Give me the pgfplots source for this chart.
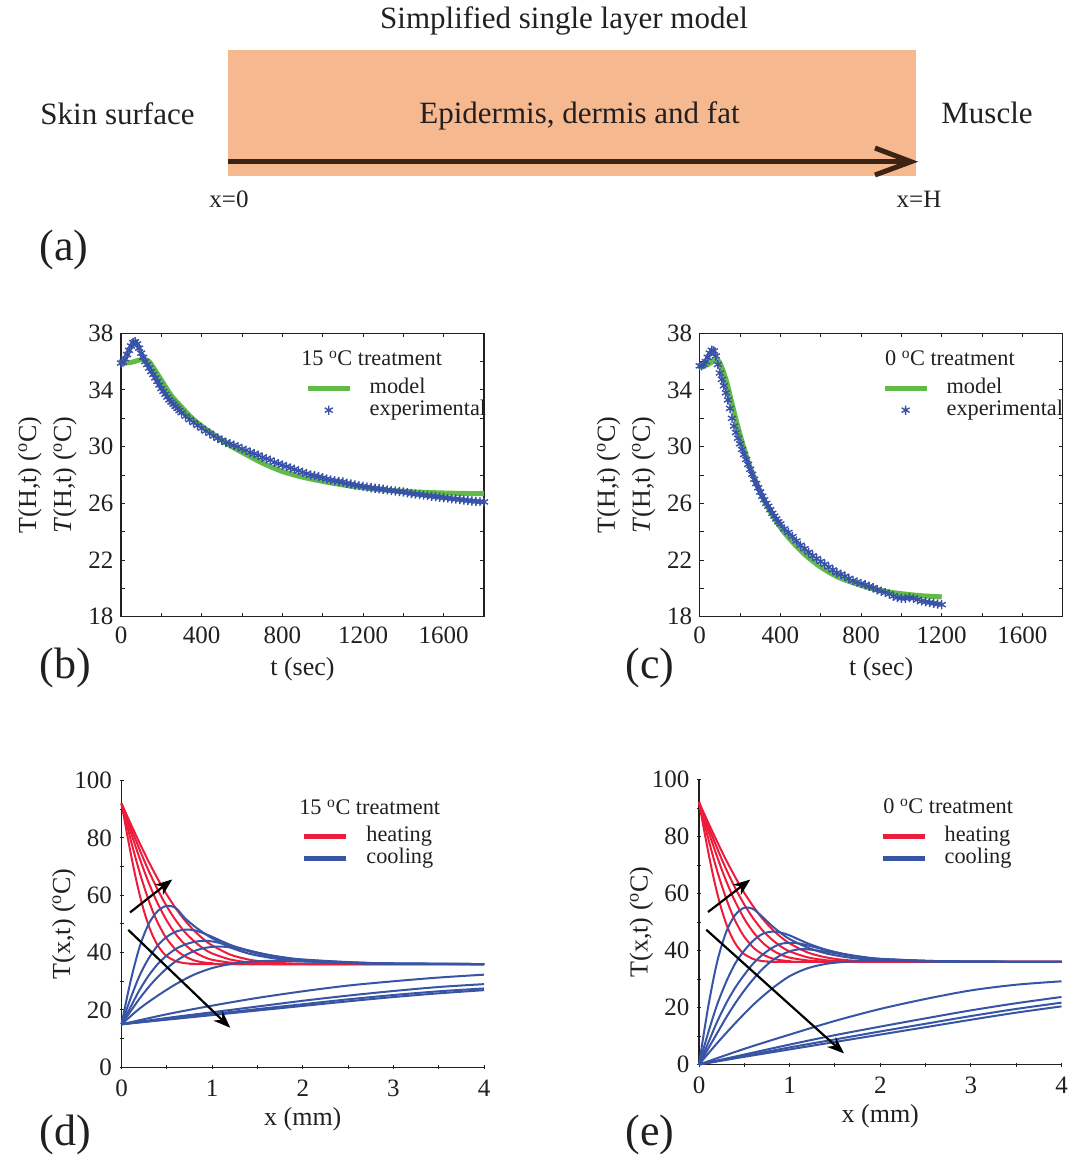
\documentclass[border=0pt]{standalone}
\usepackage{fontspec}
\setmainfont{Liberation Serif}
\usepackage{pgfplots}
\pgfplotsset{compat=1.18}
\usetikzlibrary{arrows.meta}

\definecolor{peach}{RGB}{246,184,142}
\definecolor{barrow}{RGB}{61,35,20}
\definecolor{mgreen}{RGB}{98,187,70}
\definecolor{eblue}{RGB}{55,82,168}
\definecolor{hred}{RGB}{237,28,58}
\definecolor{cblue}{RGB}{56,84,164}
\definecolor{ink}{RGB}{35,31,32}

\tikzset{arr/.style={-{Stealth[length=17pt, width=13pt]}, line width=2.2pt, black},
  ttl/.style={anchor=base west, inner sep=0pt, font=\fontsize{22.3}{22.3}\selectfont, text=ink}}

\pgfplotsset{
  panel/.style={
    scale only axis, clip=false,
    axis line style={line width=1.1pt, ink},
    tick style={line width=1pt, ink},
    major tick length=4pt, minor tick length=4pt,
    tick align=inside,
    /pgf/number format/assume math mode=true,
    /pgf/number format/1000 sep={},
    ticklabel style={font=\fontsize{25}{25}\selectfont, text=ink},
    xticklabel shift=7pt, yticklabel shift=4pt,
    label style={font=\fontsize{26}{26}\selectfont, text=ink},
    legend cell align=left,
    legend style={draw=none, fill=none, inner sep=0pt, column sep=17pt,
      font=\fontsize{22.3}{22.3}\selectfont, text=ink,
      nodes={inner sep=0.5pt, text height=16pt, text depth=5pt}},
  },
  tfit/.style={panel, xmin=0, xmax=1800, ymin=18, ymax=38,
    xtick={0,400,800,1200,1600}, minor xtick={200,600,1000,1400,1800},
    ytick={18,22,26,30,34,38}, minor ytick={20,24,28,32,36},
    xlabel={t (sec)},
    ylabel={T(H,t) (\textsuperscript{o}C)\\[9pt]\textit{T}(H,t) (\textsuperscript{o}C)},
    ylabel style={align=center}},
  prof/.style={panel, xmin=0, xmax=4, ymin=0, ymax=100,
    axis x line=bottom, axis y line=left, axis line style={-},
    xtick={0,1,2,3,4}, minor xtick={0.5,1.5,2.5,3.5},
    ytick={0,20,40,60,80,100}, minor ytick={10,30,50,70,90},
    xlabel={x (mm)}, ylabel={T(x,t) (\textsuperscript{o}C)}},
  model/.style={mgreen, line width=5pt, smooth,
    legend image code/.code={\draw[##1] (0pt,0pt) -- (42pt,0pt);}},
  expt/.style={eblue, line width=0.5pt, mark=asterisk, mark size=4.6pt,
    mark options={line width=1.4pt},
    legend image code/.code={\draw[##1, only marks, mark repeat=2, mark phase=2]
      plot coordinates {(0pt,0pt) (21pt,0pt) (42pt,0pt)};}},
  hot/.style={hred, line width=2pt, smooth,
    legend image code/.code={\draw[##1, line width=5pt] (0pt,0pt) -- (42pt,0pt);}},
  cold/.style={cblue, line width=2pt, smooth,
    legend image code/.code={\draw[##1, line width=5pt] (0pt,0pt) -- (42pt,0pt);}},
}

\begin{document}
\begin{tikzpicture}
\useasboundingbox (0pt,0pt) rectangle (1084pt,-1155pt);

% (a) diagram
\begin{scope}[x=1pt, y=-1pt, text=ink]
  \fill[peach] (228,50.5) rectangle (916,175.7);
  \draw[barrow, line width=5pt] (228,161.7) -- (910,161.7);
  \draw[barrow, line width=5pt, line join=miter] (875,148) -- (911,161.7) -- (875,175);
  \node[anchor=base, font=\fontsize{31}{31}\selectfont] at (564,28.5) {Simplified single layer model};
  \node[anchor=base, font=\fontsize{31}{31}\selectfont] at (117.5,125) {Skin surface};
  \node[anchor=base, font=\fontsize{31}{31}\selectfont] at (579.5,124) {Epidermis, dermis and fat};
  \node[anchor=base, font=\fontsize{31}{31}\selectfont] at (987,124) {Muscle};
  \node[anchor=base, font=\fontsize{25}{25}\selectfont] at (229,208) {x=0};
  \node[anchor=base, font=\fontsize{25}{25}\selectfont] at (919,208) {x=H};
  \node[font=\fontsize{44}{44}\selectfont] at (64,250) {(a)};
  \node[font=\fontsize{44}{44}\selectfont] at (65,668) {(b)};
  \node[font=\fontsize{44}{44}\selectfont] at (650,668) {(c)};
  \node[font=\fontsize{44}{44}\selectfont] at (65,1135) {(d)};
  \node[font=\fontsize{44}{44}\selectfont] at (650,1135) {(e)};
\end{scope}

% (b) 15 C treatment, T(H,t)
\begin{axis}[tfit, at={(121pt,-616.7pt)}, anchor=south west,
  width=363pt, height=283.4pt, xlabel shift=6pt, ylabel shift=5pt,
  legend style={at={(0.507,0.846)}, anchor=north west}]
\addplot[model] coordinates {
(0,35.9) (50,35.95) (100,36.15) (120,36.15) (140,36.0) (160,35.6) (180,35.15)
(200,34.7) (250,33.6) (300,32.8) (350,32.05) (400,31.45) (450,30.95) (500,30.45)
(550,30.0) (600,29.6) (700,28.85) (800,28.25) (900,27.85) (1000,27.55) (1100,27.3)
(1200,27.1) (1300,26.95) (1400,26.85) (1500,26.78) (1600,26.73) (1700,26.7) (1800,26.68)};
\addlegendentry{model}
\addplot[expt] coordinates {
(0,35.9) (10,35.95) (20,36.2) (30,36.5) (40,36.8) (50,37.1) (60,37.35) (70,37.4)
(80,37.25) (90,36.95) (100,36.6) (110,36.3) (120,36.0) (130,35.8) (140,35.55)
(150,35.3) (160,35.1) (170,34.85) (180,34.6) (190,34.35) (200,34.1) (210,33.9)
(220,33.7) (230,33.5) (240,33.3) (250,33.15) (260,33.0) (270,32.85) (280,32.7)
(290,32.55) (300,32.4) (320,32.15) (340,31.9) (360,31.7) (380,31.5) (400,31.3)
(420,31.1) (440,30.95) (460,30.75) (480,30.6) (500,30.45) (520,30.3) (540,30.2)
(560,30.1) (580,30.0) (600,29.85) (620,29.75) (640,29.6) (660,29.5) (680,29.4)
(700,29.25) (720,29.15) (740,29.05) (760,28.9) (780,28.8) (800,28.7) (820,28.6)
(840,28.5) (860,28.4) (880,28.3) (900,28.2) (920,28.1) (940,28.0) (960,27.95)
(980,27.88) (1000,27.8) (1020,27.72) (1040,27.65) (1060,27.6) (1080,27.55)
(1100,27.5) (1120,27.42) (1140,27.36) (1160,27.3) (1180,27.25) (1200,27.2)
(1220,27.15) (1240,27.1) (1260,27.06) (1280,27.03) (1300,27.0) (1320,26.95)
(1340,26.9) (1360,26.87) (1380,26.83) (1400,26.8) (1420,26.75) (1440,26.7)
(1460,26.65) (1480,26.62) (1500,26.58) (1520,26.55) (1540,26.5) (1560,26.47)
(1580,26.43) (1600,26.4) (1620,26.37) (1640,26.33) (1660,26.3) (1680,26.27)
(1700,26.23) (1720,26.2) (1740,26.17) (1760,26.14) (1780,26.12) (1800,26.1)};
\addlegendentry{experimental}
\node[ttl] at (rel axis cs:0.496,0.885) {15 \textsuperscript{o}C treatment};
\end{axis}

% (c) 0 C treatment, T(H,t)
\begin{axis}[tfit, at={(699.7pt,-616.7pt)}, anchor=south west,
  width=363pt, height=283.4pt, xlabel shift=6pt, ylabel shift=5pt,
  legend style={at={(0.502,0.846)}, anchor=north west}]
\addplot[model] coordinates {
(0,35.65) (40,35.8) (70,36.05) (90,36.1) (105,35.75) (130,34.75) (155,33.35)
(180,31.9) (205,30.6) (230,29.4) (255,28.35) (290,27.15) (320,26.2) (355,25.3)
(405,24.2) (455,23.35) (520,22.4) (600,21.5) (685,20.8) (770,20.35) (850,20.0)
(935,19.75) (1015,19.6) (1100,19.48) (1200,19.4)};
\addlegendentry{model}
\addplot[expt] coordinates {
(0,35.7) (10,35.7) (20,35.8) (30,36.0) (40,36.3) (50,36.6) (60,36.8) (70,36.75)
(80,36.4) (90,35.8) (100,35.2) (110,34.75) (120,34.3) (130,33.8) (140,33.3)
(150,32.7) (160,32.0) (170,31.45) (180,31.0) (190,30.6) (200,30.2) (210,29.8)
(220,29.45) (230,29.1) (240,28.75) (250,28.4) (260,28.05) (270,27.7) (280,27.4)
(290,27.1) (300,26.8) (310,26.5) (320,26.25) (330,26.0) (340,25.8) (350,25.55)
(360,25.3) (370,25.1) (380,24.9) (390,24.7) (400,24.55) (420,24.2) (440,23.95)
(460,23.65) (480,23.35) (500,23.05) (520,22.8) (540,22.55) (560,22.3) (580,22.1)
(600,21.9) (620,21.7) (640,21.5) (660,21.3) (680,21.1) (700,21.0) (720,20.85)
(740,20.7) (760,20.55) (780,20.45) (800,20.35) (820,20.25) (840,20.15) (860,20.05)
(880,19.9) (900,19.8) (920,19.7) (940,19.6) (960,19.45) (980,19.35) (1000,19.3)
(1020,19.3) (1040,19.35) (1060,19.3) (1080,19.2) (1100,19.1) (1120,19.05)
(1140,19.0) (1160,18.95) (1180,18.9) (1200,18.85)};
\addlegendentry{experimental}
\node[ttl] at (rel axis cs:0.51,0.885) {0 \textsuperscript{o}C treatment};
\end{axis}

% (d) 15 C treatment, T(x,t)
\begin{axis}[prof, at={(121.5pt,-1067.3pt)}, anchor=south west,
  width=362.5pt, height=286.8pt, xlabel shift=4pt, ylabel shift=-8pt,
  legend style={at={(0.497,0.845)}, anchor=north west}]
\addplot[hot] coordinates {(0,92) (0.05,83.3) (0.1,74.9) (0.15,67.1) (0.2,60.2) (0.25,54.3) (0.3,49.4) (0.35,45.5) (0.4,42.5) (0.45,40.3) (0.5,38.7) (0.6,37.0) (0.7,36.3) (0.8,36.1) (1.0,36) (4,36)};
\addlegendentry{heating}
\addplot[hot, forget plot] coordinates {(0,92) (0.05,85.7) (0.1,79.5) (0.15,73.6) (0.2,68.0) (0.25,62.9) (0.3,58.2) (0.35,54.0) (0.4,50.4) (0.45,47.4) (0.5,44.8) (0.6,41.0) (0.7,38.7) (0.8,37.3) (0.9,36.6) (1.0,36.3) (1.2,36.0) (4,36)};
\addplot[hot, forget plot] coordinates {(0,92) (0.05,87.1) (0.1,82.2) (0.15,77.5) (0.2,72.9) (0.25,68.5) (0.3,64.4) (0.35,60.6) (0.4,57.1) (0.5,51.1) (0.6,46.4) (0.7,42.8) (0.8,40.3) (0.9,38.6) (1.0,37.5) (1.2,36.5) (1.4,36.1) (1.6,36) (4,36)};
\addplot[hot, forget plot] coordinates {(0,92) (0.1,83.8) (0.2,75.9) (0.3,68.5) (0.4,61.9) (0.5,56.1) (0.6,51.2) (0.7,47.1) (0.8,44.0) (0.9,41.5) (1.0,39.7) (1.2,37.6) (1.4,36.6) (1.6,36.2) (1.8,36) (4,36)};
\addplot[hot, forget plot] coordinates {(0,92) (0.1,85.0) (0.2,78.2) (0.3,71.7) (0.4,65.7) (0.5,60.2) (0.6,55.4) (0.7,51.2) (0.8,47.7) (0.9,44.8) (1.0,42.5) (1.2,39.3) (1.4,37.6) (1.6,36.7) (1.8,36.3) (2.0,36.1) (2.2,36) (4,36)};
\addplot[cold] coordinates {(0,15) (0.1,30) (0.2,42) (0.3,50) (0.4,54.5) (0.5,56.3) (0.6,55.5) (0.7,52) (0.8,49.3) (0.9,47.0) (1.0,45) (1.2,41.8) (1.4,39.7) (1.6,38.4) (1.8,37.5) (2.0,37.0) (2.5,36.3) (3.0,36.1) (4.0,36)};
\addlegendentry{cooling}
\addplot[cold, forget plot] coordinates {(0,15) (0.1,24) (0.2,32) (0.3,38) (0.4,42.5) (0.5,45.5) (0.6,47.3) (0.7,48) (0.8,47.8) (0.9,46.8) (1.0,45.5) (1.2,42.7) (1.4,40.5) (1.6,39.0) (1.8,38.0) (2.0,37.3) (2.5,36.5) (3.0,36.1) (4.0,36)};
\addplot[cold, forget plot] coordinates {(0,15) (0.1,21) (0.2,27) (0.3,32) (0.4,36) (0.5,39) (0.6,41.3) (0.7,42.8) (0.8,43.7) (0.9,44.1) (1.0,43.9) (1.2,42.5) (1.4,40.8) (1.6,39.3) (1.8,38.2) (2.0,37.5) (2.5,36.6) (3.0,36.2) (4.0,36)};
\addplot[cold, forget plot] coordinates {(0,15) (0.1,19.5) (0.2,24) (0.3,28) (0.4,31.5) (0.5,34.5) (0.6,37) (0.7,39) (0.8,40.5) (0.9,41.5) (1.0,42) (1.1,42.1) (1.2,41.8) (1.4,40.6) (1.6,39.3) (1.8,38.3) (2.0,37.6) (2.5,36.7) (3.0,36.2) (4.0,36)};
\addplot[cold, forget plot] coordinates {(0,15) (0.2,20.5) (0.4,25) (0.6,29) (0.8,32.3) (1.0,34.6) (1.2,36.0) (1.4,36.8) (1.6,37.1) (1.8,37.1) (2.0,36.9) (2.5,36.5) (3.0,36.2) (4.0,36)};
\addplot[cold, forget plot] coordinates {(0,15) (0.5,18.5) (1.0,21.5) (1.5,24.2) (2.0,26.5) (2.5,28.5) (3.0,30.0) (3.5,31.3) (4.0,32.3)};
\addplot[cold, forget plot] coordinates {(0,15) (0.5,17.2) (1.0,19.2) (1.5,21.2) (2.0,23.2) (2.5,25.0) (3.0,26.6) (3.5,28.0) (4.0,29.0)};
\addplot[cold, forget plot] coordinates {(0,15) (0.5,16.8) (1.0,18.6) (1.5,20.3) (2.0,22.0) (2.5,23.7) (3.0,25.2) (3.5,26.5) (4.0,27.5)};
\addplot[cold, forget plot] coordinates {(0,15) (0.5,16.6) (1.0,18.2) (1.5,19.8) (2.0,21.4) (2.5,23.0) (3.0,24.5) (3.5,25.8) (4.0,26.9)};
\draw[arr] (axis cs:0.094,54) -- (axis cs:0.56,65.5);
\draw[arr] (axis cs:0.075,47.9) -- (axis cs:1.2,13.8);
\node[ttl] at (rel axis cs:0.49,0.88) {15 \textsuperscript{o}C treatment};
\end{axis}

% (e) 0 C treatment, T(x,t)
\begin{axis}[prof, at={(699pt,-1064.5pt)}, anchor=south west,
  width=362.5pt, height=285pt, xlabel shift=4pt, ylabel shift=-8pt,
  legend style={at={(0.499,0.84)}, anchor=north west}]
\addplot[hot] coordinates {(0,92) (0.05,83.3) (0.1,74.9) (0.15,67.1) (0.2,60.2) (0.25,54.3) (0.3,49.4) (0.35,45.5) (0.4,42.5) (0.45,40.3) (0.5,38.7) (0.6,37.0) (0.7,36.3) (0.8,36.1) (1.0,36) (4,36)};
\addlegendentry{heating}
\addplot[hot, forget plot] coordinates {(0,92) (0.05,85.7) (0.1,79.5) (0.15,73.6) (0.2,68.0) (0.25,62.9) (0.3,58.2) (0.35,54.0) (0.4,50.4) (0.45,47.4) (0.5,44.8) (0.6,41.0) (0.7,38.7) (0.8,37.3) (0.9,36.6) (1.0,36.3) (1.2,36.0) (4,36)};
\addplot[hot, forget plot] coordinates {(0,92) (0.05,87.1) (0.1,82.2) (0.15,77.5) (0.2,72.9) (0.25,68.5) (0.3,64.4) (0.35,60.6) (0.4,57.1) (0.5,51.1) (0.6,46.4) (0.7,42.8) (0.8,40.3) (0.9,38.6) (1.0,37.5) (1.2,36.5) (1.4,36.1) (1.6,36) (4,36)};
\addplot[hot, forget plot] coordinates {(0,92) (0.1,83.8) (0.2,75.9) (0.3,68.5) (0.4,61.9) (0.5,56.1) (0.6,51.2) (0.7,47.1) (0.8,44.0) (0.9,41.5) (1.0,39.7) (1.2,37.6) (1.4,36.6) (1.6,36.2) (1.8,36) (4,36)};
\addplot[hot, forget plot] coordinates {(0,92) (0.1,85.0) (0.2,78.2) (0.3,71.7) (0.4,65.7) (0.5,60.2) (0.6,55.4) (0.7,51.2) (0.8,47.7) (0.9,44.8) (1.0,42.5) (1.2,39.3) (1.4,37.6) (1.6,36.7) (1.8,36.3) (2.0,36.1) (2.2,36) (4,36)};
\addplot[cold] coordinates {(0,0) (0.1,20) (0.2,36) (0.3,46.5) (0.4,52.5) (0.5,55) (0.6,54.5) (0.7,51.8) (0.8,48.8) (0.9,46.2) (1.0,44) (1.2,41) (1.4,39) (1.6,37.8) (1.8,37.0) (2.0,36.6) (2.5,36.2) (3.0,36.0) (4.0,36)};
\addlegendentry{cooling}
\addplot[cold, forget plot] coordinates {(0,0) (0.1,11) (0.2,21) (0.3,29) (0.4,35.5) (0.5,40) (0.6,43.5) (0.7,45.8) (0.8,46.6) (0.9,46.3) (1.0,45.3) (1.2,42.5) (1.4,40.3) (1.6,38.7) (1.8,37.6) (2.0,37.0) (2.5,36.3) (3.0,36.1) (4.0,36)};
\addplot[cold, forget plot] coordinates {(0,0) (0.1,7.5) (0.2,15) (0.3,21.5) (0.4,27) (0.5,31.5) (0.6,35.5) (0.7,38.5) (0.8,40.8) (0.9,42.3) (1.0,42.7) (1.1,42.5) (1.2,41.8) (1.4,40.2) (1.6,38.8) (1.8,37.8) (2.0,37.1) (2.5,36.4) (3.0,36.1) (4.0,36)};
\addplot[cold, forget plot] coordinates {(0,0) (0.1,5.5) (0.2,11) (0.3,16.5) (0.4,21.5) (0.5,26) (0.6,30) (0.7,33.5) (0.8,36.3) (0.9,38.3) (1.0,39.7) (1.1,40.4) (1.2,40.4) (1.4,39.6) (1.6,38.5) (1.8,37.6) (2.0,37.0) (2.5,36.4) (3.0,36.1) (4.0,36)};
\addplot[cold, forget plot] coordinates {(0,0) (0.2,7.5) (0.4,14.5) (0.6,21) (0.8,26.5) (1.0,31) (1.2,33.8) (1.4,35.3) (1.6,36.0) (1.8,36.3) (2.0,36.3) (2.5,36.2) (3.0,36.1) (4.0,36)};
\addplot[cold, forget plot] coordinates {(0,0) (0.5,5.5) (1.0,10.5) (1.5,15.3) (2.0,19.5) (2.5,23.0) (3.0,26.0) (3.5,28.0) (4.0,29.2)};
\addplot[cold, forget plot] coordinates {(0,0) (0.5,3.5) (1.0,7.0) (1.5,10.3) (2.0,13.3) (2.5,16.2) (3.0,19.0) (3.5,21.5) (4.0,23.7)};
\addplot[cold, forget plot] coordinates {(0,0) (0.5,3.0) (1.0,6.0) (1.5,8.8) (2.0,11.6) (2.5,14.3) (3.0,17.0) (3.5,19.5) (4.0,21.7)};
\addplot[cold, forget plot] coordinates {(0,0) (0.5,2.7) (1.0,5.3) (1.5,7.9) (2.0,10.5) (2.5,13.1) (3.0,15.7) (3.5,18.2) (4.0,20.4)};
\draw[arr] (axis cs:0.099,53.5) -- (axis cs:0.566,64.9);
\draw[arr] (axis cs:0.08,47.3) -- (axis cs:1.6,3.9);
\node[ttl] at (rel axis cs:0.508,0.879) {0 \textsuperscript{o}C treatment};
\end{axis}
\end{tikzpicture}
\end{document}
